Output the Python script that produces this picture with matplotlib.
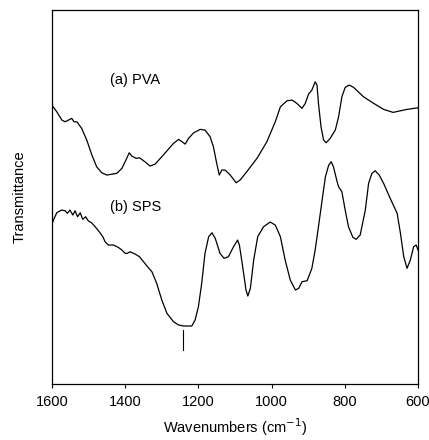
import numpy as np
import matplotlib
matplotlib.use("Agg")
import matplotlib.pyplot as plt

plt.rcParams['font.family'] = ['Liberation Sans', 'DejaVu Sans']

# FTIR spectra (wavenumber in cm-1, transmittance in a.u.)
pva_wn = [1600, 1587, 1573, 1564, 1555, 1546, 1540, 1532, 1519, 1505, 1491, 1478,
          1464, 1450, 1423, 1409, 1398, 1389, 1382, 1370, 1361, 1346, 1332, 1318,
          1296, 1268, 1254, 1236, 1227, 1213, 1195, 1182, 1168, 1159, 1150, 1143,
          1136, 1127, 1113, 1097, 1086, 1068, 1040, 1013, 990, 976, 958, 944, 931,
          917, 908, 899, 890, 881, 876, 872, 865, 858, 851, 840, 826, 817, 808,
          799, 788, 776, 749, 721, 694, 668, 648, 630, 600]
pva_t = [279, 272.3, 264, 262.3, 264, 265.7, 262.3, 262.3, 255.7, 244, 229, 217.3,
         211.3, 209, 210.7, 215.7, 224, 231.3, 228, 225.7, 226.3, 222.3, 218, 220,
         229, 240.7, 244.7, 240, 245.7, 251.3, 254.7, 254, 247.3, 237.3, 220.7, 209,
         214, 214, 209, 201.3, 204, 212.3, 225.7, 242.3, 262.3, 277.3, 283.3, 284,
         280.7, 275.7, 280.7, 290, 294, 302.3, 299, 280.7, 257.3, 244, 241.3, 245.7,
         254, 267.3, 287.3, 296.7, 299, 296.7, 287.3, 280.7, 274.7, 271.7, 273.3,
         274.7, 276.3]

sps_wn = [1600, 1596, 1587, 1574, 1564, 1558, 1551, 1543, 1537, 1530, 1523, 1516,
          1508, 1501, 1492, 1482, 1471, 1461, 1455, 1446, 1432, 1419, 1409, 1400,
          1394, 1387, 1373, 1361, 1350, 1336, 1327, 1314, 1300, 1286, 1268, 1254,
          1241, 1218, 1209, 1200, 1191, 1182, 1172, 1163, 1154, 1141, 1130, 1118,
          1104, 1093, 1088, 1079, 1070, 1065, 1058, 1049, 1038, 1022, 1004, 990,
          976, 963, 949, 935, 926, 917, 903, 890, 881, 872, 862, 853, 844, 837,
          831, 821, 817, 808, 799, 790, 778, 769, 758, 744, 735, 726, 717, 706,
          694, 676, 657, 648, 639, 630, 621, 612, 605, 600]
sps_t = [160, 164, 171.3, 174, 173.3, 170.7, 174, 169, 173.3, 167.3, 171.3, 164.7,
         167.3, 163.3, 161.3, 157.3, 152.3, 147.3, 142.3, 139, 139, 136.7, 134,
         130.7, 130.7, 132.3, 130, 127.3, 122.3, 116, 112.3, 100.7, 84, 70.7, 62.3,
         59, 58, 58, 64, 77.3, 100.7, 130.7, 147.3, 151.3, 145.7, 130.7, 125.7,
         127.3, 137.3, 144, 139, 117.3, 94, 88, 95.7, 124, 147.3, 157.3, 162, 159,
         147.3, 124, 104, 94, 95.7, 102.3, 103.3, 115.7, 134, 157.3, 184, 207.3,
         219, 222.3, 217.3, 202.3, 197.3, 192.3, 174, 157.3, 146.7, 144.7, 149,
         174, 200.7, 210.7, 213.3, 209, 200.7, 185.7, 170.7, 150.7, 127.3, 115.7,
         124, 137.3, 139, 134]

marker_wn = 1242
marker_t = (34, 54)

fig = plt.figure(figsize=(4.29, 4.40), dpi=100)
ax = fig.add_axes([0.1212, 0.1273, 0.8532, 0.8497])

ax.plot(pva_wn, pva_t, color='black', lw=0.9)
ax.plot(sps_wn, sps_t, color='black', lw=0.9)
ax.plot([marker_wn, marker_wn], marker_t, color='black', lw=0.8)

ax.text(1441, 304, '(a) PVA', fontsize=10.5, va='center', ha='left')
ax.text(1441, 177, '(b) SPS', fontsize=10.5, va='center', ha='left')

ax.set_xlim(1600, 600)
ax.set_ylim(0, 374)
ax.set_xticks([1600, 1400, 1200, 1000, 800, 600])
ax.set_yticks([])
ax.tick_params(axis='x', direction='out', length=3, width=0.8, labelsize=10.5, pad=5)
for s in ax.spines.values():
    s.set_linewidth(0.9)

ax.set_xlabel('Wavenumbers (cm$^{-1}$)', fontsize=10.5, labelpad=5)
ax.set_ylabel('Transmittance', fontsize=10.5, labelpad=18)

fig.savefig('out.png', dpi=100)
